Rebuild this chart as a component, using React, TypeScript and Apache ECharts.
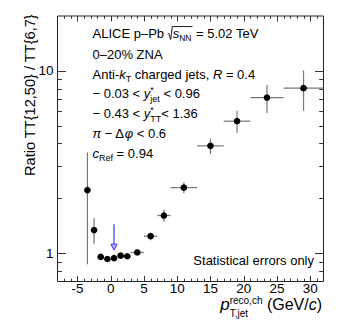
import React, { useEffect, useRef } from "react";
import * as echarts from "echarts";

// ---------------- data ----------------
const binCenters = [-3.5, -2.5, -1.5, -0.5, 0.5, 1.5, 2.5, 4, 6, 8, 11, 15, 19, 23.5, 29];
const binHalfWidths = [0.5, 0.5, 0.5, 0.5, 0.5, 0.5, 0.5, 1, 1, 1, 2, 2, 2, 2.5, 3];
const ratioValues = [2.22, 1.34, 0.955, 0.93, 0.94, 0.97, 0.963, 1.01, 1.24, 1.61, 2.29, 3.88, 5.3, 7.14, 8.04];
const statErrors = [1.35, 0.22, 0.02, 0.02, 0.02, 0.02, 0.02, 0.03, 0.06, 0.12, 0.16, 0.38, 0.74, 1.26, 2.0];

const arrowX = [0.5];
const arrowStart = [1.44];
const arrowEnd = [1.04];

const xTickValues = [-5, 0, 5, 10, 15, 20, 25, 30];
const xTickLabels = ["-5", "0", "5", "10", "15", "20", "25", "30"];
const xMinorTicks = [-7, -6, -4, -3, -2, -1, 1, 2, 3, 4, 6, 7, 8, 9, 11, 12, 13, 14, 16, 17, 18, 19, 21, 22, 23, 24, 26, 27, 28, 29, 31];
const yTickValues = [1, 10];
const yTickLabels = ["1", "10"];
const yMinorTicks = [0.8, 0.9, 2, 3, 4, 5, 6, 7, 8, 9];

const X_MIN = -8;
const X_MAX = 32;
const Y_MIN = 0.7;
const Y_MAX = 20;

const FONT = "'Liberation Sans', Arial, Helvetica, sans-serif";

// --------------- text helpers ---------------
let measureCtx: CanvasRenderingContext2D | null = null;
function measure(t: string, size: number, italic?: boolean) {
  if (!measureCtx) measureCtx = document.createElement("canvas").getContext("2d");
  measureCtx!.font = `${italic ? "italic " : ""}${size}px ${FONT}`;
  return measureCtx!.measureText(t).width;
}

type Seg = {
  t?: string;
  size: number;
  italic?: boolean;
  dy?: number;
  sup?: string;
  sub?: string;
  supDy?: number;
  subDy?: number;
  inner?: Seg[];
};

function textEl(t: string, x: number, baseline: number, size: number, italic?: boolean) {
  return {
    type: "text",
    x,
    y: baseline - 0.35 * size,
    silent: true,
    style: {
      text: t,
      fontSize: size,
      fontFamily: FONT,
      fontStyle: italic ? "italic" : "normal",
      fill: "#000",
      textAlign: "left",
      textVerticalAlign: "middle",
    },
  };
}

function layoutSegs(segs: Seg[], x: number, baseline: number, out: any[]): number {
  for (const s of segs) {
    if (s.inner) {
      const x0 = x;
      const end = layoutSegs(s.inner, x0 + 5, baseline, out);
      const top = baseline - s.size * 0.88;
      out.push({
        type: "polyline",
        silent: true,
        shape: { points: [[x0, baseline - 4], [x0 + 1.2, baseline - 4.6], [x0 + 3, baseline + 1.5], [x0 + 4.6, top], [end + 1, top]] },
        style: { stroke: "#000", fill: null, lineWidth: 0.9 },
      });
      x = end + 1;
    } else if (s.sup !== undefined || s.sub !== undefined) {
      let w = 0;
      if (s.sup) {
        out.push(textEl(s.sup, x, baseline + (s.supDy || 0), s.size, s.italic));
        w = Math.max(w, measure(s.sup, s.size, s.italic));
      }
      if (s.sub) {
        out.push(textEl(s.sub, x, baseline + (s.subDy || 0), s.size, s.italic));
        w = Math.max(w, measure(s.sub, s.size, s.italic));
      }
      x += w;
    } else if (s.t !== undefined) {
      out.push(textEl(s.t, x, baseline + (s.dy || 0), s.size, s.italic));
      x += measure(s.t, s.size, s.italic);
    }
  }
  return x;
}

function buildLine(segs: Seg[], x: number, baseline: number, align: "left" | "right" = "left") {
  const out: any[] = [];
  if (align === "right") {
    const tmp: any[] = [];
    const w = layoutSegs(segs, 0, baseline, tmp);
    layoutSegs(segs, x - w, baseline, out);
  } else {
    layoutSegs(segs, x, baseline, out);
  }
  return out;
}

const F = 13;
const S = 9;
const legendLines: { segs: Seg[]; baseline: number }[] = [
  {
    baseline: 38,
    segs: [
      { t: "ALICE p\u2013Pb ", size: F },
      { size: F, inner: [{ t: "s", size: F, italic: true }, { sub: "NN", size: 8.5, subDy: 3 }] },
      { t: " = 5.02 TeV", size: F },
    ],
  },
  { baseline: 59, segs: [{ t: "0\u201320% ZNA", size: F }] },
  {
    baseline: 79,
    segs: [
      { t: "Anti-", size: F },
      { t: "k", size: F, italic: true },
      { sub: "T", size: S, subDy: 3 },
      { t: " charged jets, ", size: F },
      { t: "R", size: F, italic: true },
      { t: " = 0.4", size: F },
    ],
  },
  {
    baseline: 98.5,
    segs: [
      { t: "\u2212 0.03 < ", size: F },
      { t: "y", size: F, italic: true },
      { sup: "*", sub: "jet", size: S, supDy: -5, subDy: 4 },
      { t: " < 0.96", size: F },
    ],
  },
  {
    baseline: 118.5,
    segs: [
      { t: "\u2212 0.43 < ", size: F },
      { t: "y", size: F, italic: true },
      { sup: "*", sub: "TT", size: S, supDy: -5, subDy: 4 },
      { t: "< 1.36", size: F },
    ],
  },
  {
    baseline: 138.5,
    segs: [
      { t: "\u03c0", size: F, italic: true },
      { t: " \u2212 \u0394", size: F },
      { t: "\u03c6", size: F, italic: true },
      { t: " < 0.6", size: F },
    ],
  },
  {
    baseline: 158,
    segs: [
      { t: "c", size: F, italic: true },
      { sub: "Ref", size: S, subDy: 3 },
      { t: " = 0.94", size: F },
    ],
  },
];

const xTitleSegs: Seg[] = [
  { t: "p", size: 17, italic: true },
  { sup: "reco,ch", sub: "T,jet", size: 10, supDy: -7, subDy: 6.5 },
  { t: " (GeV/", size: 16 },
  { t: "c", size: 16, italic: true },
  { t: ")", size: 16 },
];

export default function App() {
  const ref = useRef<HTMLDivElement>(null);
  useEffect(() => {
    if (!ref.current) return;
    const chart = echarts.init(ref.current, null, { renderer: "svg" });

    const graphics: any[] = [];
    for (const l of legendLines) graphics.push(...buildLine(l.segs, 92.5, l.baseline));
    graphics.push(...buildLine(xTitleSegs, 322, 310.5, "right"));
    graphics.push({
      type: "text",
      x: 314,
      y: 265 - 0.35 * 13,
      silent: true,
      style: { text: "Statistical errors only", fontSize: 13, fontFamily: FONT, fill: "#000", textAlign: "right", textVerticalAlign: "middle" },
    });
    graphics.push({
      type: "text",
      x: 30,
      y: 176,
      rotation: Math.PI / 2,
      silent: true,
      style: { text: "Ratio TT{12,50} / TT{6,7}", fontSize: 14.6, fontFamily: FONT, fill: "#000", textAlign: "left", textVerticalAlign: "middle" },
    });

    const tickData: any[] = [];
    xTickValues.forEach((v) => tickData.push([v, Y_MIN, 0, 1]));
    xMinorTicks.forEach((v) => tickData.push([v, Y_MIN, 0, 0]));
    yTickValues.forEach((v) => tickData.push([X_MIN, v, 1, 1]));
    yMinorTicks.forEach((v) => tickData.push([X_MIN, v, 1, 0]));

    const option: any = {
      animation: false,
      backgroundColor: "#fff",
      grid: { left: 57.5, right: 17.5, top: 16, bottom: 42.5, show: true, borderColor: "#222", borderWidth: 1, backgroundColor: "transparent", containLabel: false },
      xAxis: {
        type: "value",
        min: X_MIN,
        max: X_MAX,
        splitNumber: 8,
        axisLine: { show: false },
        axisTick: { show: false },
        splitLine: { show: false },
        axisLabel: {
          margin: 0,
          fontSize: 13.5,
          fontFamily: FONT,
          color: "#000",
          formatter: (v: number) => {
            const i = xTickValues.findIndex((t) => Math.abs(t - v) < 1e-6);
            return i >= 0 ? xTickLabels[i] : "";
          },
        },
      },
      yAxis: {
        type: "log",
        logBase: 10,
        min: Y_MIN,
        max: Y_MAX,
        axisLine: { show: false },
        axisTick: { show: false },
        splitLine: { show: false },
        axisLabel: {
          margin: 4,
          fontSize: 13.5,
          fontFamily: FONT,
          color: "#000",
          formatter: (v: number) => {
            const i = yTickValues.findIndex((t) => Math.abs(t - v) < 1e-6 * t);
            return i >= 0 ? yTickLabels[i] : "";
          },
        },
      },
      graphic: { elements: graphics },
      series: [
        {
          type: "custom",
          silent: true,
          data: tickData,
          renderItem: (params: any, api: any) => {
            const cs = params.coordSys;
            const isY = api.value(2) === 1;
            const major = api.value(3) === 1;
            const p = api.coord([api.value(0), api.value(1)]);
            const st = { stroke: "#333", lineWidth: 1 };
            if (!isY) {
              const len = major ? 5.5 : 2.8;
              const x = Math.round(p[0]) + 0.5;
              const b = cs.y + cs.height;
              return {
                type: "group",
                children: [
                  { type: "line", shape: { x1: x, y1: b, x2: x, y2: b - len }, style: st },
                  { type: "line", shape: { x1: x, y1: cs.y, x2: x, y2: cs.y + len }, style: st },
                ],
              };
            } else {
              const len = major ? 8.5 : 4.3;
              const y = Math.round(p[1]) + 0.5;
              const r = cs.x + cs.width;
              return {
                type: "group",
                children: [
                  { type: "line", shape: { x1: cs.x, y1: y, x2: cs.x + len, y2: y }, style: st },
                  { type: "line", shape: { x1: r, y1: y, x2: r - len, y2: y }, style: st },
                ],
              };
            }
          },
        },
        {
          type: "custom",
          silent: true,
          data: binCenters.map((x, i) => [x, ratioValues[i], binHalfWidths[i], statErrors[i]]),
          renderItem: (params: any, api: any) => {
            const x = api.value(0);
            const y = api.value(1);
            const xe = api.value(2);
            const ye = api.value(3);
            const c = api.coord([x, y]);
            const l = api.coord([x - xe, y]);
            const r = api.coord([x + xe, y]);
            const t = api.coord([x, y + ye]);
            const b = api.coord([x, y - ye]);
            const st = { stroke: "#777", lineWidth: 1.2 };
            return {
              type: "group",
              children: [
                { type: "line", shape: { x1: l[0], y1: c[1], x2: r[0], y2: c[1] }, style: st },
                { type: "line", shape: { x1: c[0], y1: t[1], x2: c[0], y2: b[1] }, style: st },
                { type: "circle", shape: { cx: c[0], cy: c[1], r: 3.3 }, style: { fill: "#000" } },
              ],
            };
          },
        },
        {
          type: "custom",
          silent: true,
          data: arrowX.map((x, i) => [x, arrowStart[i], arrowEnd[i]]),
          renderItem: (params: any, api: any) => {
            const x = api.value(0);
            const p1 = api.coord([x, api.value(1)]);
            const p2 = api.coord([x, api.value(2)]);
            const hw = 3.2;
            const hh = 6;
            const col = "#3a3aff";
            return {
              type: "group",
              children: [
                { type: "line", shape: { x1: p1[0], y1: p1[1], x2: p2[0], y2: p2[1] - hh }, style: { stroke: col, lineWidth: 1.2 } },
                {
                  type: "polygon",
                  shape: { points: [[p2[0] - hw, p2[1] - hh], [p2[0] + hw, p2[1] - hh], [p2[0], p2[1]]] },
                  style: { fill: "#aab0ff", stroke: col, lineWidth: 1 },
                },
              ],
            };
          },
        },
      ],
    };
    chart.setOption(option);
    return () => chart.dispose();
  }, []);
  return <div ref={ref} style={{ position: "fixed", left: 0, top: 0, width: 341, height: 324, background: "#fff" }} />;
}
